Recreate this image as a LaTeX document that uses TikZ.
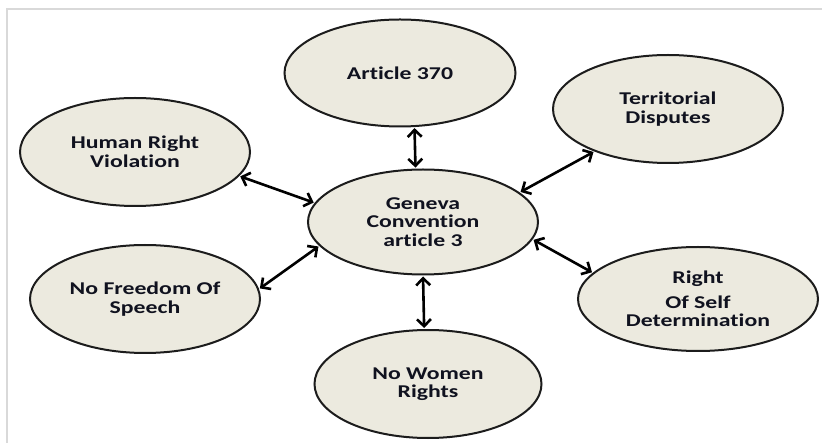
\documentclass[tikz,border=0pt]{standalone}
\usepackage{fontspec}
\newfontfamily\labelfont{Carlito}[FakeStretch=1.32, Ligatures=NoCommon]
\usetikzlibrary{shapes.geometric,arrows.meta}
\definecolor{bubblefill}{HTML}{ECEADF}
\definecolor{bubbleline}{HTML}{1C1C1C}
\definecolor{labeltext}{HTML}{10121F}
\definecolor{framegray}{HTML}{D9D9D9}
\begin{document}
\begin{tikzpicture}[x=1pt,y=-1pt,
  bubble/.style={ellipse, draw=bubbleline, line width=2pt, fill=bubblefill,
    inner sep=0pt, align=center, text=labeltext,
    font=\labelfont\bfseries\fontsize{18}{18.5}\selectfont},
  link/.style={line width=2.6pt, draw=black,
    {Straight Barb[length=7pt,width=14pt]}-{Straight Barb[length=7pt,width=14pt]},
    shorten <=1pt, shorten >=1pt}]
\useasboundingbox (0,0) rectangle (822,443);
% page frame
\draw[framegray, line width=1.5pt] (7,443) -- (7,9) -- (822,9);

% hub and surrounding topics
\node[bubble, minimum width=230pt, minimum height=105pt] (geneva) at (423,222)
  {Geneva\\Convention\\article 3};
\node[bubble, minimum width=231pt, minimum height=107pt] (article) at (400,73)
  {Article 370};
\node[bubble, minimum width=230pt, minimum height=108pt] (territorial) at (668,109)
  {Territorial\\Disputes};
\node[bubble, minimum width=230pt, minimum height=108pt] (human) at (135,152)
  {Human Right\\Violation};
\node[bubble, minimum width=230pt, minimum height=108pt] (freedom) at (145,299)
  {No Freedom Of\\Speech};
\node[bubble, minimum width=240pt, minimum height=104pt] (selfdet) at (698,299)
  {Right\\[6pt]Of Self\\Determination};
\node[bubble, minimum width=227pt, minimum height=108pt] (women) at (428,384)
  {No Women\\Rights};

% two-way links to the hub
\draw[link] (article.-75) -- (geneva.98);
\draw[link] (human.-13) -- (geneva.170);
\draw[link] (freedom.5) -- (geneva.-167);
\draw[link] (territorial.-150) -- (geneva.17);
\draw[link] (selfdet.166) -- (geneva.-9);
\draw[link] (geneva.-90) -- (women.94);
\end{tikzpicture}
\end{document}
